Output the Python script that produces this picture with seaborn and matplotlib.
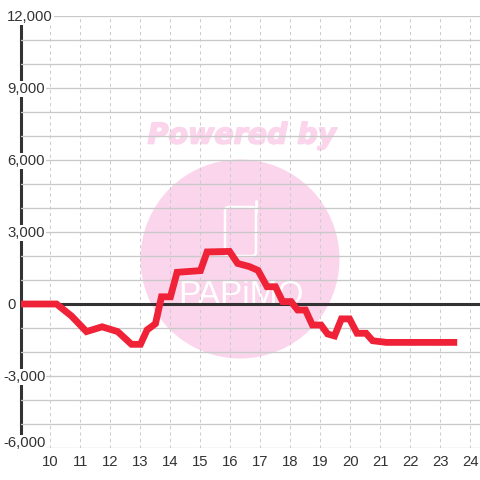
import matplotlib
matplotlib.use("Agg")
import matplotlib.pyplot as plt
import matplotlib.patheffects as pe
import seaborn as sns
import pandas as pd
from matplotlib.patches import Circle, FancyBboxPatch
from matplotlib.lines import Line2D
from matplotlib.ticker import MultipleLocator, FixedLocator
from matplotlib.transforms import ScaledTranslation, IdentityTransform

hours = [9, 10, 10.2, 10.7, 11.2, 11.72, 12.24, 12.7, 13.0, 13.22, 13.5, 13.7, 14.0, 14.22,
         15.0, 15.22, 15.97, 16.24, 16.63, 16.92, 17.22, 17.5, 17.74, 18.02, 18.24, 18.5,
         18.73, 19.02, 19.24, 19.47, 19.7, 19.97, 20.22, 20.52, 20.74, 21.2, 23.56]
profit = [0, 0, 0, -500, -1150, -950, -1150, -1680, -1680, -1080, -820, 300, 300, 1320,
          1390, 2170, 2190, 1690, 1560, 1400, 720, 720, 100, 100, -250, -250,
          -875, -875, -1250, -1330, -620, -620, -1220, -1220, -1530, -1600, -1600]
x_ticks = list(range(10, 25))
y_ticks = [-6000, -3000, 0, 3000, 6000, 9000, 12000]
y_labels = ["-6,000", "-3,000", "0", "3,000", "6,000", "9,000", "12,000"]
df = pd.DataFrame({"hour": hours, "profit": profit})

sns.set_theme(style="white")
plt.rcParams["font.family"] = ["Liberation Sans", "DejaVu Sans"]
W = 480.0
fig = plt.figure(figsize=(4.8, 4.8), dpi=100, facecolor="white")
ax = fig.add_axes([20.5 / W, 32 / W, 459.5 / W, 432 / W], facecolor="none")
PINK = "#FBD5EC"


def py(v):
    return W - v


fig.add_artist(Circle((240, py(259)), 99.5, transform=IdentityTransform(), fc=PINK, ec="none", zorder=-5))
fig.text(242 / W, 1 - 135.5 / W, "Powered by", color=PINK, fontsize=20.5, fontweight="bold", style="italic",
         family="DejaVu Sans", ha="center", va="center", zorder=-5,
         path_effects=[pe.withStroke(linewidth=1.2, foreground=PINK)])
fig.add_artist(FancyBboxPatch((225, py(256)), 31, 49, boxstyle="round,pad=0,rounding_size=4",
                              transform=IdentityTransform(), fc="none", ec="white", lw=1.8, zorder=-4))
fig.add_artist(Line2D([255.5, 255.5], [py(201), py(212)], transform=IdentityTransform(),
                      color="white", lw=2.0, solid_capstyle="round", zorder=-4))
fig.text(241 / W, 1 - 296 / W, "PAPiMO", color="white", fontsize=24, family="Liberation Sans",
         ha="center", va="center", zorder=-4)

ax.set_xlim(9, 24.32)
ax.set_ylim(-6000, 12000)
ax.xaxis.set_major_locator(FixedLocator(x_ticks))
ax.set_xticklabels([str(t) for t in x_ticks])
ax.set_yticks(y_ticks)
ax.set_yticklabels(y_labels)
ax.yaxis.set_minor_locator(MultipleLocator(1000))
ax.set_axisbelow("line")
ax.grid(True, axis="y", which="major", color="#c9c9c9", lw=0.95)
ax.grid(True, axis="y", which="minor", color="#c9c9c9", lw=0.95)
ax.grid(True, axis="x", which="major", color="#cccccc", lw=0.75, dashes=(3, 3.2))
ax.tick_params(axis="both", which="both", length=0)
ax.tick_params(axis="x", labelsize=10.7, labelcolor="#333333", pad=5)
ax.tick_params(axis="y", labelsize=10.7, labelcolor="#333333", pad=9.7)
for s in ("top", "right", "bottom"):
    ax.spines[s].set_visible(False)
ax.spines["left"].set_color("#333333")
ax.spines["left"].set_linewidth(2.2)
ax.spines["left"].set_zorder(1.0)

for lab, val in zip(ax.get_yticklabels(), y_ticks):
    lab.set_ha("left")
    lab.set_va("center")
    lab.set_bbox(dict(facecolor="white", edgecolor="none", pad=0.8))
    dx = -4 if val < 0 else 0
    dy = 5 if val == -6000 else -1
    lab.set_transform(lab.get_transform() + ScaledTranslation(dx / 100, dy / 100, fig.dpi_scale_trans))

ax.axhline(0, color="#333333", lw=2.2, zorder=1.6)
sns.lineplot(data=df, x="hour", y="profit", ax=ax, color="#EF2238", lw=4.9, zorder=3,
             solid_joinstyle="miter", solid_capstyle="butt", errorbar=None, sort=False)
ax.set_xlabel("")
ax.set_ylabel("")
fig.savefig("out.png", dpi=100)
